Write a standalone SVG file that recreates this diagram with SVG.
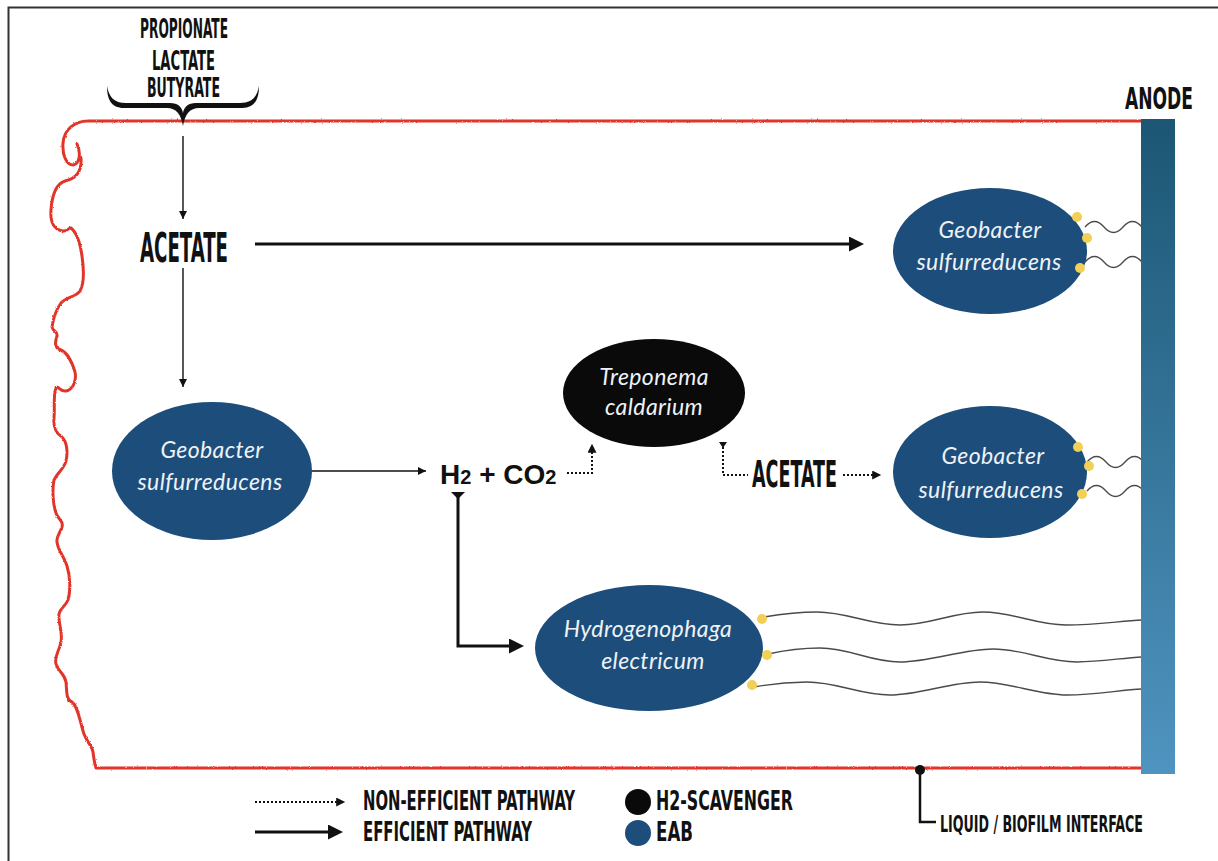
<svg xmlns="http://www.w3.org/2000/svg" width="1218" height="861" viewBox="0 0 1218 861">
  <defs>
    <style>
      .cond { font-family: "Liberation Sans Narrow", "DejaVu Sans Condensed", "Liberation Sans", sans-serif; font-weight: bold; fill: #111; }
      .sp { font-family: Lato, "Open Sans", "Liberation Sans", sans-serif; font-style: italic; font-weight: 400; font-size: 23px; letter-spacing: 0.4px; fill: #eef2f6; text-anchor: middle; }
      .eab { fill: #1c4d7b; }
      .scav { fill: #0a0a0a; }
      .pil { fill: #f2cf55; }
      .wire { fill: none; stroke: #4a4a4a; stroke-width: 1.3; }
      .thin { fill: none; stroke: #111; stroke-width: 1.4; }
      .thick { fill: none; stroke: #111; stroke-width: 3; }
      .dot { fill: none; stroke: #111; stroke-width: 2; stroke-dasharray: 2 2; }
    </style>
    <linearGradient id="anodeGrad" x1="0" y1="0" x2="0" y2="1">
      <stop offset="0" stop-color="#1c5674"/>
      <stop offset="1" stop-color="#4f94c0"/>
    </linearGradient>
    <filter id="rough" filterUnits="userSpaceOnUse" x="0" y="0" width="1218" height="861">
      <feTurbulence type="fractalNoise" baseFrequency="1.2" numOctaves="1" seed="3" result="n"/>
      <feDisplacementMap in="SourceGraphic" in2="n" scale="2.4" xChannelSelector="R" yChannelSelector="G"/>
    </filter>
    <marker id="headThin" markerUnits="userSpaceOnUse" viewBox="0 0 10 10" refX="10" refY="5" markerWidth="9" markerHeight="8" orient="auto">
      <path d="M0,0 L10,5 L0,10 Z" fill="#111"/>
    </marker>
    <marker id="headThick" markerUnits="userSpaceOnUse" viewBox="0 0 10 10" refX="2" refY="5" markerWidth="17" markerHeight="15" orient="auto">
      <path d="M0,0 L10,5 L0,10 Z" fill="#111"/>
    </marker>
    <marker id="headDot" markerUnits="userSpaceOnUse" viewBox="0 0 10 10" refX="2" refY="5" markerWidth="10" markerHeight="9" orient="auto">
      <path d="M0,0 L10,5 L0,10 Z" fill="#111"/>
    </marker>
  </defs>

  <rect width="1218" height="861" fill="#ffffff"/>
  <!-- page frame -->
  <path d="M8.5,861 V7.5 H1218" fill="none" stroke="#333" stroke-width="2"/>

  <!-- biofilm boundary (liquid / biofilm interface) -->
  <g id="biofilm" filter="url(#rough)">
    <path fill="none" stroke="#e2352b" stroke-width="3" stroke-linejoin="round" stroke-linecap="round"
      d="M1141,121 H88 C74,121 64,130 63,143 C62,156 67,165 73,165 C80,164 81,152 77,144
         M81,158 C82,172 75,179 65,181 C56,184 52,195 51,210 C50,222 54,230 63,231 C67,232 69,227 71,228 C76,232 80,242 82,256
         C84,270 84,284 80,291 C76,297 66,297 61,303 C56,310 53,320 52,327 C53,332 58,331 57,336 C55,342 54,348 61,350
         C68,353 72,362 75,372 C77,382 72,390 66,391 C60,392 58,385 56,388 C53,395 55,407 54,418 C53,428 56,433 62,437
         C67,442 68,452 66,461 C64,469 57,473 54,480 C52,490 53,505 56,513 C58,520 64,520 62,527 C60,533 56,537 57,542
         C58,551 64,556 67,566 C70,576 71,590 68,600 C65,607 60,608 59,614 C58,624 63,632 61,642 C59,652 54,656 56,664
         C58,672 64,672 66,682 C67,692 66,700 72,702 C78,706 80,722 84,734 C87,742 92,746 93,752 C94,760 95,765 96,768 H1141"/>
  </g>

  <!-- substrate labels and brace -->
  <g id="substrates">
    <text class="cond" transform="translate(140,38) scale(0.65,1)" font-size="26" textLength="135.4" lengthAdjust="spacingAndGlyphs">PROPIONATE</text>
    <text class="cond" transform="translate(152,70) scale(0.65,1)" font-size="26" textLength="96.9" lengthAdjust="spacingAndGlyphs">LACTATE</text>
    <text class="cond" transform="translate(147,97) scale(0.65,1)" font-size="26" textLength="112.3" lengthAdjust="spacingAndGlyphs">BUTYRATE</text>
    <path fill="#111" d="M107,86 C107,99 111,108 124,108 L167,108 C176,108 181,114 183,126 C185,114 190,108 199,108 L242,108 C255,108 259,99 259,86 C257,97 252,103 240,103 L196,103 C188,103 184,107 183,113 C182,107 178,103 170,103 L126,103 C114,103 109,97 107,86 Z"/>
  </g>

  <!-- connectors -->
  <g id="connectors">
    <line class="thin" x1="183" y1="136" x2="183" y2="219" marker-end="url(#headThin)"/>
    <line class="thin" x1="183" y1="268" x2="183" y2="387" marker-end="url(#headThin)"/>
    <line class="thin" x1="312" y1="471" x2="426" y2="471" marker-end="url(#headThin)"/>
    <line class="thick" x1="255" y1="244" x2="852" y2="244" marker-end="url(#headThick)"/>
    <!-- H2 to Hydrogenophaga -->
    <path d="M451,492 L465,492 L458,499 Z" fill="#111"/>
    <path class="thick" d="M458,497 V646 H512" marker-end="url(#headThick)"/>
    <!-- H2 to Treponema -->
    <path class="dot" d="M567,473 H592 V451" marker-end="url(#headDot)"/>
    <!-- Treponema to acetate -->
    <path d="M719,442 L727,442 L723,448 Z" fill="#111"/>
    <path class="dot" d="M723,447 V475 H748"/>
    <!-- acetate to Geobacter -->
    <path class="dot" d="M843,475 H874" marker-end="url(#headDot)"/>
  </g>

  <g id="acetate-main">
    <text class="cond" transform="translate(140,262) scale(0.65,1)" font-size="40" textLength="135.4" lengthAdjust="spacingAndGlyphs">ACETATE</text>
  </g>
  <g id="acetate-secondary">
    <text class="cond" transform="translate(752,487) scale(0.65,1)" font-size="38" textLength="130.8" lengthAdjust="spacingAndGlyphs">ACETATE</text>
  </g>
  <g id="h2-co2">
    <text x="440" y="484" font-family="Liberation Sans, Arial, sans-serif" font-weight="bold" font-size="28" fill="#111">H<tspan font-size="20">2</tspan> + CO<tspan font-size="20">2</tspan></text>
  </g>

  <!-- nanowires -->
  <g id="nanowires">
    <path class="wire" d="M1085,227 q9.5,-11 19,0 t19,0 t19,0"/>
    <path class="wire" d="M1085,262 q9.5,-11 19,0 t19,0 t19,0"/>
    <path class="wire" d="M1087,462 q9.5,-11 19,0 t19,0 t19,0"/>
    <path class="wire" d="M1087,491 q9.5,-11 19,0 t19,0 t19,0"/>
    <path class="wire" d="M764,617 C782,614 800,612 817,612 C847,612 870,625 900,625 C930,625 953,612 983,612 C1013,612 1036,625 1066,625 C1096,625 1120,621 1142,620"/>
    <path class="wire" d="M768,654 C786,650 803,648 820,648 C850,648 870,662 900,662 C930,662 963,649 993,649 C1023,649 1047,662 1077,662 C1100,662 1122,658 1142,657"/>
    <path class="wire" d="M754,687 C770,684 790,682 807,682 C837,682 860,695 890,695 C920,695 950,682 980,682 C1010,682 1037,695 1067,695 C1095,695 1120,690 1142,689"/>
  </g>

  <g id="anode">
    <rect x="1141" y="119" width="34" height="655" fill="url(#anodeGrad)"/>
    <text class="cond" transform="translate(1125,109) scale(0.65,1)" font-size="30" textLength="104.6" lengthAdjust="spacingAndGlyphs">ANODE</text>
  </g>

  <g id="geobacter-left">
    <ellipse class="eab" cx="212" cy="471" rx="100" ry="69"/>
    <text class="sp" x="212" y="458">Geobacter</text>
    <text class="sp" x="210" y="490">sulfurreducens</text>
  </g>

  <g id="geobacter-top">
    <ellipse class="eab" cx="990" cy="251" rx="97" ry="63"/>
    <text class="sp" x="990" y="238">Geobacter</text>
    <text class="sp" x="989" y="270">sulfurreducens</text>
    <circle class="pil" cx="1077" cy="217" r="5"/>
    <circle class="pil" cx="1087" cy="238" r="5"/>
    <circle class="pil" cx="1080" cy="268" r="5"/>
  </g>

  <g id="geobacter-middle">
    <ellipse class="eab" cx="990" cy="472" rx="97" ry="66"/>
    <text class="sp" x="993" y="464">Geobacter</text>
    <text class="sp" x="991" y="498">sulfurreducens</text>
    <circle class="pil" cx="1078" cy="447" r="5"/>
    <circle class="pil" cx="1089" cy="466" r="5"/>
    <circle class="pil" cx="1082" cy="494" r="5"/>
  </g>

  <g id="treponema">
    <ellipse class="scav" cx="654" cy="393" rx="91" ry="54"/>
    <text class="sp" x="654" y="385">Treponema</text>
    <text class="sp" x="654" y="415">caldarium</text>
  </g>

  <g id="hydrogenophaga">
    <ellipse class="eab" cx="649" cy="648" rx="114" ry="63"/>
    <text class="sp" x="648" y="637">Hydrogenophaga</text>
    <text class="sp" x="653" y="669">electricum</text>
    <circle class="pil" cx="762" cy="619" r="5"/>
    <circle class="pil" cx="767" cy="655" r="5"/>
    <circle class="pil" cx="752" cy="685" r="5"/>
  </g>

  <g id="interface-label">
    <circle cx="920" cy="770" r="5" fill="#111"/>
    <path d="M920,770 V822 H936" fill="none" stroke="#111" stroke-width="2.5"/>
    <text class="cond" transform="translate(940,832) scale(0.65,1)" font-size="23.5" textLength="312.3" lengthAdjust="spacingAndGlyphs">LIQUID / BIOFILM INTERFACE</text>
  </g>

  <g id="legend">
    <line class="dot" x1="255" y1="802" x2="338" y2="802" stroke-width="1.6" marker-end="url(#headDot)"/>
    <text class="cond" transform="translate(363,810) scale(0.65,1)" font-size="26.5" textLength="326.2" lengthAdjust="spacingAndGlyphs">NON-EFFICIENT PATHWAY</text>
    <line class="thick" x1="255" y1="832" x2="331" y2="832" marker-end="url(#headThick)"/>
    <text class="cond" transform="translate(363,841) scale(0.65,1)" font-size="26.5" textLength="260" lengthAdjust="spacingAndGlyphs">EFFICIENT PATHWAY</text>
    <circle class="scav" cx="638" cy="802" r="13"/>
    <text class="cond" transform="translate(656,810) scale(0.65,1)" font-size="26.5" textLength="210.8" lengthAdjust="spacingAndGlyphs">H2-SCAVENGER</text>
    <circle class="eab" cx="638" cy="833" r="13"/>
    <text class="cond" transform="translate(656,841) scale(0.65,1)" font-size="26.5" textLength="56.9" lengthAdjust="spacingAndGlyphs">EAB</text>
  </g>
</svg>
